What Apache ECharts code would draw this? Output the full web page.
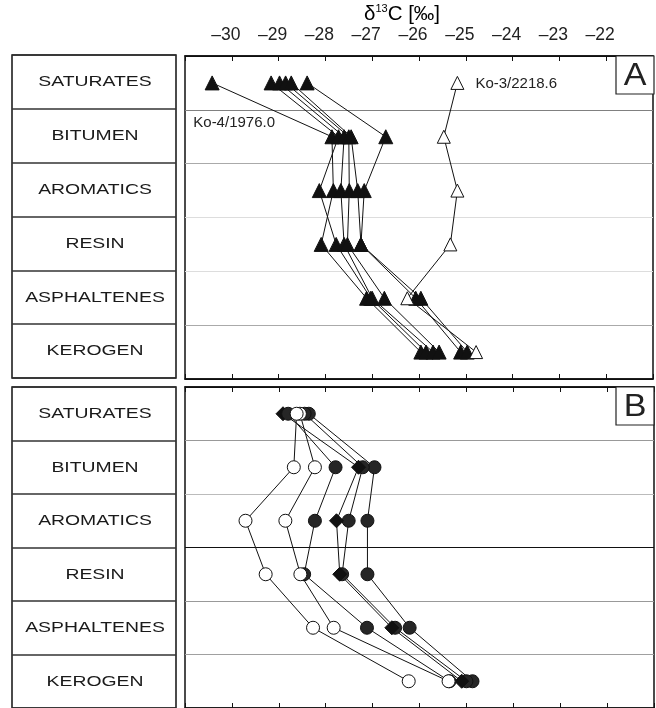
<!DOCTYPE html>
<html><head><meta charset="utf-8">
<script src="https://cdn.jsdelivr.net/npm/echarts@6/dist/echarts.min.js"></script>
<style>html,body{margin:0;padding:0;background:#fff}#c{width:656px;height:708px}</style>
</head><body><div id="c"></div>
<script>
// ---- data ----
const categories = ['SATURATES', 'BITUMEN', 'AROMATICS', 'RESIN', 'ASPHALTENES', 'KEROGEN'];
const xMin = -31, xMax = -21;
const axisTitle = ['δ', '13', 'C [‰]'];
const panelNames = ['A', 'B'];

// Panel A: black triangles (6 samples) + open triangle
const A_ko4 = [-30.42, -27.86, -27.83, -28.09, -27.12, -25.96];
const A_s2  = [-29.16, -27.72, -28.13, -27.77, -27.03, -25.85];
const A_s3  = [-28.98, -27.60, -27.67, -27.60, -27.00, -25.70];
const A_s4  = [-28.85, -27.50, -27.49, -27.53, -26.74, -25.57];
const A_s5  = [-28.73, -27.45, -27.31, -27.24, -26.07, -25.11];
const A_s6  = [-28.39, -26.71, -27.17, -27.24, -25.96, -24.97];
const A_ko3 = [-25.18, -25.47, -25.18, -25.33, -26.25, -24.78];
const labelKo4 = 'Ko-4/1976.0';
const labelKo3 = 'Ko-3/2218.6';

// Panel B: open circles, filled circles, diamond
const B_open1 = [-28.62, -28.68, -29.71, -29.28, -28.27, -26.23];
const B_open2 = [-28.55, -28.23, -28.86, -28.54, -27.83, -25.38];
const B_fill1 = [-28.80, -27.79, -28.23, -28.46, -27.12, -25.36];
const B_dia   = [-28.91, -27.30, -27.77, -27.70, -26.59, -25.10];
const B_fill2 = [-28.45, -27.21, -27.51, -27.65, -26.52, -25.00];
const B_fill3 = [-28.36, -26.96, -27.11, -27.11, -26.21, -24.87];

// ---- chart ----
const FONT = 'Liberation Sans';
const chart = echarts.init(document.getElementById('c'), null, {renderer: 'canvas'});

function toPts(vals) { return vals.map((v, i) => [v, i + 0.5]); }

function mk(name, vals, xi, yi, sym, size, fill, extra) {
  return Object.assign({
    name: name, type: 'line', xAxisIndex: xi, yAxisIndex: yi,
    data: toPts(vals), symbol: sym, symbolSize: size, showAllSymbol: true,
    lineStyle: {color: '#111', width: 1},
    itemStyle: {color: fill, borderColor: '#111', borderWidth: 1},
    emphasis: {disabled: true}, silent: true, animation: false, z: 3
  }, extra || {});
}

function xAx(grid, pos, labels) {
  return {
    type: 'value', gridIndex: grid, position: pos, min: xMin, max: xMax, interval: 1,
    axisLine: {show: true, onZero: false, lineStyle: {color: '#111', width: 1.5}},
    axisTick: {show: true, inside: true, length: 5, lineStyle: {color: '#111', width: 1}},
    axisLabel: labels ? {
      show: true, margin: 12, fontFamily: FONT, fontSize: 17.5, color: '#222',
      padding: [0, 12, 0, 0],
      formatter: v => (v <= xMin || v >= xMax) ? '' : String(v).replace('-', '\u2013')
    } : {show: false},
    splitLine: {show: false}
  };
}
function xHidden(grid) {
  return {type: 'value', gridIndex: grid, min: 0, max: 1, show: false};
}
function yAx(grid, colors, width) {
  return {
    type: 'value', gridIndex: grid, min: 0, max: 6, interval: 1, inverse: true,
    axisLine: {show: false}, axisTick: {show: false}, axisLabel: {show: false},
    splitLine: {show: true, lineStyle: {color: colors, width: width}}
  };
}

const gridA = {left: 185, top: 56, width: 469, height: 323};
const gridB = {left: 185, top: 387, width: 469, height: 324};
const gridLA = {left: 12, top: 55, width: 164, height: 323};
const gridLB = {left: 12, top: 387, width: 164, height: 324};
[gridA, gridB, gridLA, gridLB].forEach(g => { g.show = true; g.borderColor = '#111'; g.borderWidth = 1.5; g.backgroundColor = '#fff'; });

const tri = 'triangle';
const series = [
  mk('Ko-4', A_ko4, 0, 0, tri, 14, '#111', {
    data: toPts(A_ko4).map((p, i) => i === 0 ? {value: p, label: {
      show: true, formatter: labelKo4, position: 'inside', offset: [22, 40],
      fontFamily: FONT, fontSize: 15, color: '#222'}} : p)
  }),
  mk('A2', A_s2, 0, 0, tri, 14, '#111'),
  mk('A3', A_s3, 0, 0, tri, 14, '#111'),
  mk('A4', A_s4, 0, 0, tri, 14, '#111'),
  mk('A5', A_s5, 0, 0, tri, 14, '#111'),
  mk('A6', A_s6, 0, 0, tri, 14, '#111'),
  mk('Ko-3', A_ko3, 0, 0, tri, 13, '#fff', {
    data: toPts(A_ko3).map((p, i) => i === 0 ? {value: p, label: {
      show: true, formatter: labelKo3, position: 'right', distance: 11, offset: [0, 1],
      fontFamily: FONT, fontSize: 15, color: '#222'}} : p)
  }),
  mk('B3', B_fill3, 2, 1, 'circle', 13, '#262626'),
  mk('B2', B_fill2, 2, 1, 'circle', 13, '#262626'),
  mk('Bd', B_dia, 2, 1, 'diamond', 14, '#111'),
  mk('B1', B_fill1, 2, 1, 'circle', 13, '#262626'),
  mk('Bo2', B_open2, 2, 1, 'circle', 13, '#fff'),
  mk('Bo1', B_open1, 2, 1, 'circle', 13, '#fff')
];

const option = {
  backgroundColor: '#fff',
  animation: false,
  grid: [gridA, gridB, gridLA, gridLB],
  xAxis: [xAx(0, 'top', true), xAx(0, 'bottom', false), xAx(1, 'top', false), xAx(1, 'bottom', false), xHidden(2), xHidden(3)],
  yAxis: [
    yAx(0, ['#111', '#808080', '#aaaaaa', '#dddddd', '#dddddd', '#aaaaaa', '#111'], 1.2),
    yAx(1, ['#111', '#999999', '#bbbbbb', '#111111', '#999999', '#a0a0a0', '#111'], 1.2),
    yAx(2, ['#333'], 1.5),
    yAx(3, ['#333'], 1.5)
  ],
  series: series
};
chart.setOption(option);

// category labels in boxes, panel letters, axis title
const graphics = [];
[2, 3].forEach(yi => {
  categories.forEach((c, i) => {
    const y = chart.convertToPixel({yAxisIndex: yi}, i + 0.5);
    graphics.push({type: 'text', x: 95, y: y, scaleX: 1.25, silent: true,
      style: {text: c, x: 0, y: 0, align: 'center', verticalAlign: 'middle',
        font: '15.5px "' + FONT + '"', fill: '#1a1a1a'}});
  });
});
const letterTops = [56, 387];
panelNames.forEach((n, k) => {
  graphics.push({type: 'rect', shape: {x: 616, y: letterTops[k], width: 38, height: 38},
    style: {fill: '#fff', stroke: '#222', lineWidth: 1.2}, z: 10});
  graphics.push({type: 'text', x: 635, y: letterTops[k] + 20, scaleX: 1.1, z: 11,
    style: {text: n, x: 0, y: 0, align: 'center', verticalAlign: 'middle',
      font: '31px "' + FONT + '"', fill: '#222'}});
});
graphics.push({type: 'text', x: 402, y: 14, z: 11,
  style: {text: '{a|' + axisTitle[0] + '}{s|' + axisTitle[1] + '}{a|' + axisTitle[2] + '}',
    x: 0, y: 0, align: 'center', verticalAlign: 'middle',
    rich: {
      a: {fontFamily: FONT, fontSize: 20.5, color: '#222', lineHeight: 22, verticalAlign: 'bottom'},
      s: {fontFamily: FONT, fontSize: 11, color: '#222', lineHeight: 22, verticalAlign: 'top', padding: [0, 0, 9, 0]}
    }}});
chart.setOption({graphic: graphics});
</script>
</body></html>
